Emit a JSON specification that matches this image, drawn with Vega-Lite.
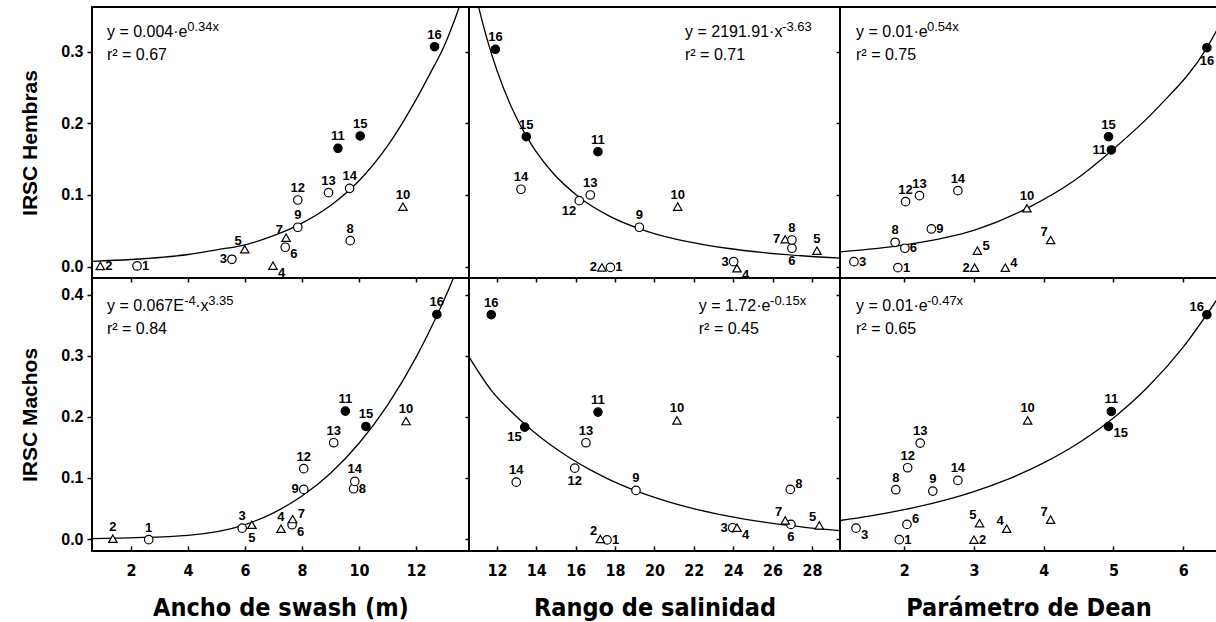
{
  "$schema": "https://vega.github.io/schema/vega-lite/v6.json",
  "background": "white",
  "padding": {"left": 17, "top": 6, "right": 0, "bottom": 0},
  "columns": 3,
  "spacing": 0,
  "bounds": "flush",
  "align": "each",
  "resolve": {"scale": {"x": "independent", "y": "independent"}},
  "config": {
    "view": {"stroke": "black", "strokeWidth": 2},
    "axis": {"domain": false, "grid": false, "tickColor": "black", "tickWidth": 1.5, "labelColor": "black", "titleColor": "black", "labelFont": "Liberation Sans", "titleFont": "Liberation Sans"},
    "text": {"font": "Liberation Sans", "color": "black"},
    "concat": {"spacing": 0}
  },
  "datasets": {
    "pts": [
      {"p": "A", "site": 1, "x": 2.21, "y": 0.001, "t": "c", "pos": "e"},
      {"p": "A", "site": 2, "x": 0.92, "y": 0.001, "t": "t", "pos": "e"},
      {"p": "A", "site": 3, "x": 5.54, "y": 0.0103, "t": "c", "pos": "w"},
      {"p": "A", "site": 4, "x": 6.98, "y": 0.0014, "t": "t", "pos": "se"},
      {"p": "A", "site": 5, "x": 5.99, "y": 0.0243, "t": "t", "pos": "nw"},
      {"p": "A", "site": 6, "x": 7.41, "y": 0.0271, "t": "c", "pos": "se"},
      {"p": "A", "site": 7, "x": 7.44, "y": 0.0404, "t": "t", "pos": "nw"},
      {"p": "A", "site": 8, "x": 9.69, "y": 0.0363, "t": "c", "pos": "n"},
      {"p": "A", "site": 9, "x": 7.85, "y": 0.055, "t": "c", "pos": "n"},
      {"p": "A", "site": 10, "x": 11.54, "y": 0.0837, "t": "t", "pos": "n"},
      {"p": "A", "site": 11, "x": 9.26, "y": 0.1651, "t": "f", "pos": "n"},
      {"p": "A", "site": 12, "x": 7.85, "y": 0.093, "t": "c", "pos": "n"},
      {"p": "A", "site": 13, "x": 8.93, "y": 0.1032, "t": "c", "pos": "n"},
      {"p": "A", "site": 14, "x": 9.67, "y": 0.1093, "t": "c", "pos": "n"},
      {"p": "A", "site": 15, "x": 10.04, "y": 0.1823, "t": "f", "pos": "n"},
      {"p": "A", "site": 16, "x": 12.65, "y": 0.3068, "t": "f", "pos": "n"},

      {"p": "B", "site": 1, "x": 17.76, "y": -0.001, "t": "c", "pos": "e"},
      {"p": "B", "site": 2, "x": 17.33, "y": -0.001, "t": "t", "pos": "w"},
      {"p": "B", "site": 3, "x": 24.02, "y": 0.007, "t": "c", "pos": "w"},
      {"p": "B", "site": 4, "x": 24.19, "y": -0.0022, "t": "t", "pos": "se"},
      {"p": "B", "site": 5, "x": 28.25, "y": 0.0223, "t": "t", "pos": "n"},
      {"p": "B", "site": 6, "x": 26.98, "y": 0.0257, "t": "c", "pos": "s"},
      {"p": "B", "site": 7, "x": 26.64, "y": 0.0382, "t": "t", "pos": "w"},
      {"p": "B", "site": 8, "x": 26.98, "y": 0.0372, "t": "c", "pos": "n"},
      {"p": "B", "site": 9, "x": 19.23, "y": 0.055, "t": "c", "pos": "n"},
      {"p": "B", "site": 10, "x": 21.18, "y": 0.0837, "t": "t", "pos": "n"},
      {"p": "B", "site": 11, "x": 17.13, "y": 0.1604, "t": "f", "pos": "n"},
      {"p": "B", "site": 12, "x": 16.18, "y": 0.0921, "t": "c", "pos": "sw"},
      {"p": "B", "site": 13, "x": 16.74, "y": 0.1, "t": "c", "pos": "n"},
      {"p": "B", "site": 14, "x": 13.22, "y": 0.108, "t": "c", "pos": "n"},
      {"p": "B", "site": 15, "x": 13.49, "y": 0.1813, "t": "f", "pos": "n"},
      {"p": "B", "site": 16, "x": 11.92, "y": 0.3032, "t": "f", "pos": "n"},

      {"p": "C", "site": 1, "x": 1.91, "y": -0.0014, "t": "c", "pos": "e"},
      {"p": "C", "site": 2, "x": 3.01, "y": -0.0014, "t": "t", "pos": "w"},
      {"p": "C", "site": 3, "x": 1.28, "y": 0.007, "t": "c", "pos": "e"},
      {"p": "C", "site": 4, "x": 3.45, "y": -0.0014, "t": "t", "pos": "ne"},
      {"p": "C", "site": 5, "x": 3.05, "y": 0.0223, "t": "t", "pos": "ne"},
      {"p": "C", "site": 6, "x": 2.01, "y": 0.0257, "t": "c", "pos": "e"},
      {"p": "C", "site": 7, "x": 4.1, "y": 0.0372, "t": "t", "pos": "nw"},
      {"p": "C", "site": 8, "x": 1.87, "y": 0.034, "t": "c", "pos": "n"},
      {"p": "C", "site": 9, "x": 2.39, "y": 0.0526, "t": "c", "pos": "e"},
      {"p": "C", "site": 10, "x": 3.76, "y": 0.0815, "t": "t", "pos": "n"},
      {"p": "C", "site": 11, "x": 4.97, "y": 0.1628, "t": "f", "pos": "w"},
      {"p": "C", "site": 12, "x": 2.02, "y": 0.0907, "t": "c", "pos": "n"},
      {"p": "C", "site": 13, "x": 2.22, "y": 0.099, "t": "c", "pos": "n"},
      {"p": "C", "site": 14, "x": 2.77, "y": 0.106, "t": "c", "pos": "n"},
      {"p": "C", "site": 15, "x": 4.93, "y": 0.1813, "t": "f", "pos": "n"},
      {"p": "C", "site": 16, "x": 6.34, "y": 0.3054, "t": "f", "pos": "s"},

      {"p": "D", "site": 1, "x": 2.62, "y": -0.001, "t": "c", "pos": "n"},
      {"p": "D", "site": 2, "x": 1.36, "y": 0.0005, "t": "t", "pos": "n"},
      {"p": "D", "site": 3, "x": 5.9, "y": 0.0178, "t": "c", "pos": "n"},
      {"p": "D", "site": 4, "x": 7.26, "y": 0.0169, "t": "t", "pos": "n"},
      {"p": "D", "site": 5, "x": 6.24, "y": 0.0234, "t": "t", "pos": "s"},
      {"p": "D", "site": 6, "x": 7.65, "y": 0.0234, "t": "c", "pos": "se"},
      {"p": "D", "site": 7, "x": 7.67, "y": 0.0326, "t": "t", "pos": "ne"},
      {"p": "D", "site": 8, "x": 9.81, "y": 0.0823, "t": "c", "pos": "e"},
      {"p": "D", "site": 9, "x": 8.06, "y": 0.0812, "t": "c", "pos": "w"},
      {"p": "D", "site": 10, "x": 11.65, "y": 0.193, "t": "t", "pos": "n"},
      {"p": "D", "site": 11, "x": 9.52, "y": 0.2093, "t": "f", "pos": "n"},
      {"p": "D", "site": 12, "x": 8.06, "y": 0.1151, "t": "c", "pos": "n"},
      {"p": "D", "site": 13, "x": 9.11, "y": 0.1576, "t": "c", "pos": "n"},
      {"p": "D", "site": 14, "x": 9.85, "y": 0.0943, "t": "c", "pos": "n"},
      {"p": "D", "site": 15, "x": 10.24, "y": 0.1843, "t": "f", "pos": "n"},
      {"p": "D", "site": 16, "x": 12.73, "y": 0.3676, "t": "f", "pos": "n"},

      {"p": "E", "site": 1, "x": 17.59, "y": -0.0015, "t": "c", "pos": "e"},
      {"p": "E", "site": 2, "x": 17.25, "y": 0.0, "t": "t", "pos": "nw"},
      {"p": "E", "site": 3, "x": 23.97, "y": 0.0185, "t": "c", "pos": "w"},
      {"p": "E", "site": 4, "x": 24.19, "y": 0.0185, "t": "t", "pos": "se"},
      {"p": "E", "site": 5, "x": 28.37, "y": 0.0223, "t": "t", "pos": "nw"},
      {"p": "E", "site": 6, "x": 26.93, "y": 0.0239, "t": "c", "pos": "s"},
      {"p": "E", "site": 7, "x": 26.64, "y": 0.0304, "t": "t", "pos": "nw"},
      {"p": "E", "site": 8, "x": 26.9, "y": 0.0812, "t": "c", "pos": "ne"},
      {"p": "E", "site": 9, "x": 19.06, "y": 0.0795, "t": "c", "pos": "n"},
      {"p": "E", "site": 10, "x": 21.14, "y": 0.1941, "t": "t", "pos": "n"},
      {"p": "E", "site": 11, "x": 17.13, "y": 0.2077, "t": "f", "pos": "n"},
      {"p": "E", "site": 12, "x": 15.95, "y": 0.116, "t": "c", "pos": "s"},
      {"p": "E", "site": 13, "x": 16.52, "y": 0.1576, "t": "c", "pos": "n"},
      {"p": "E", "site": 14, "x": 12.98, "y": 0.0931, "t": "c", "pos": "n"},
      {"p": "E", "site": 15, "x": 13.41, "y": 0.1831, "t": "f", "pos": "sw"},
      {"p": "E", "site": 16, "x": 11.71, "y": 0.3671, "t": "f", "pos": "n"},

      {"p": "F", "site": 1, "x": 1.93, "y": -0.001, "t": "c", "pos": "e"},
      {"p": "F", "site": 2, "x": 3.0, "y": -0.001, "t": "t", "pos": "e"},
      {"p": "F", "site": 3, "x": 1.31, "y": 0.0178, "t": "c", "pos": "se"},
      {"p": "F", "site": 4, "x": 3.47, "y": 0.0169, "t": "t", "pos": "nw"},
      {"p": "F", "site": 5, "x": 3.08, "y": 0.026, "t": "t", "pos": "nw"},
      {"p": "F", "site": 6, "x": 2.04, "y": 0.0239, "t": "c", "pos": "ne"},
      {"p": "F", "site": 7, "x": 4.1, "y": 0.0316, "t": "t", "pos": "nw"},
      {"p": "F", "site": 8, "x": 1.88, "y": 0.0807, "t": "c", "pos": "n"},
      {"p": "F", "site": 9, "x": 2.41, "y": 0.0784, "t": "c", "pos": "n"},
      {"p": "F", "site": 10, "x": 3.77, "y": 0.1941, "t": "t", "pos": "n"},
      {"p": "F", "site": 11, "x": 4.97, "y": 0.2088, "t": "f", "pos": "n"},
      {"p": "F", "site": 12, "x": 2.05, "y": 0.1167, "t": "c", "pos": "n"},
      {"p": "F", "site": 13, "x": 2.23, "y": 0.157, "t": "c", "pos": "n"},
      {"p": "F", "site": 14, "x": 2.77, "y": 0.0959, "t": "c", "pos": "n"},
      {"p": "F", "site": 15, "x": 4.93, "y": 0.1843, "t": "f", "pos": "se"},
      {"p": "F", "site": 16, "x": 6.34, "y": 0.3671, "t": "f", "pos": "nw"}
    ],
    "curves": [
      {"p": "A", "x": 0.63, "y": 0.0075}, {"p": "A", "x": 2, "y": 0.01}, {"p": "A", "x": 4, "y": 0.017}, {"p": "A", "x": 5, "y": 0.0235}, {"p": "A", "x": 6, "y": 0.0305}, {"p": "A", "x": 7, "y": 0.0432}, {"p": "A", "x": 8, "y": 0.0607}, {"p": "A", "x": 9, "y": 0.0853}, {"p": "A", "x": 10, "y": 0.1198}, {"p": "A", "x": 11, "y": 0.1684}, {"p": "A", "x": 12, "y": 0.233}, {"p": "A", "x": 12.5, "y": 0.27}, {"p": "A", "x": 13, "y": 0.309}, {"p": "A", "x": 13.5, "y": 0.3604}, {"p": "A", "x": 13.6, "y": 0.372},
      {"p": "B", "x": 10.95, "y": 0.376}, {"p": "B", "x": 11.067, "y": 0.3624}, {"p": "B", "x": 11.504, "y": 0.3168}, {"p": "B", "x": 12.001, "y": 0.2736}, {"p": "B", "x": 12.746, "y": 0.222}, {"p": "B", "x": 13.739, "y": 0.171}, {"p": "B", "x": 14.732, "y": 0.1341}, {"p": "B", "x": 16.222, "y": 0.0959}, {"p": "B", "x": 17.713, "y": 0.0706}, {"p": "B", "x": 19.7, "y": 0.0487}, {"p": "B", "x": 21.686, "y": 0.0349}, {"p": "B", "x": 23.673, "y": 0.0257}, {"p": "B", "x": 25.66, "y": 0.01935}, {"p": "B", "x": 27.646, "y": 0.0149}, {"p": "B", "x": 29.434, "y": 0.012},
      {"p": "C", "x": 1.08, "y": 0.0207}, {"p": "C", "x": 2.01, "y": 0.0303}, {"p": "C", "x": 3.02, "y": 0.0512}, {"p": "C", "x": 3.76, "y": 0.0814}, {"p": "C", "x": 4.45, "y": 0.1209}, {"p": "C", "x": 4.99, "y": 0.1632}, {"p": "C", "x": 5.65, "y": 0.2232}, {"p": "C", "x": 6.34, "y": 0.3053}, {"p": "C", "x": 6.5, "y": 0.333},
      {"p": "D", "x": 0.63, "y": 0.0005}, {"p": "D", "x": 2, "y": 0.002}, {"p": "D", "x": 4, "y": 0.006}, {"p": "D", "x": 6, "y": 0.0236}, {"p": "D", "x": 7, "y": 0.0429}, {"p": "D", "x": 8, "y": 0.0704}, {"p": "D", "x": 9, "y": 0.1077}, {"p": "D", "x": 10, "y": 0.1567}, {"p": "D", "x": 11, "y": 0.2192}, {"p": "D", "x": 12, "y": 0.2973}, {"p": "D", "x": 12.7, "y": 0.3624}, {"p": "D", "x": 13.3, "y": 0.4258}, {"p": "D", "x": 13.5, "y": 0.45},
      {"p": "E", "x": 10.58, "y": 0.298}, {"p": "E", "x": 11.752, "y": 0.2417}, {"p": "E", "x": 12.746, "y": 0.208}, {"p": "E", "x": 13.739, "y": 0.1789}, {"p": "E", "x": 14.732, "y": 0.1538}, {"p": "E", "x": 15.726, "y": 0.1321}, {"p": "E", "x": 16.719, "y": 0.1135}, {"p": "E", "x": 17.713, "y": 0.0973}, {"p": "E", "x": 19.7, "y": 0.0714}, {"p": "E", "x": 21.686, "y": 0.0521}, {"p": "E", "x": 23.673, "y": 0.0378}, {"p": "E", "x": 25.66, "y": 0.0271}, {"p": "E", "x": 27.646, "y": 0.0192}, {"p": "E", "x": 29.42, "y": 0.0138},
      {"p": "F", "x": 1.08, "y": 0.0303}, {"p": "F", "x": 1.5, "y": 0.0374}, {"p": "F", "x": 2, "y": 0.048}, {"p": "F", "x": 2.5, "y": 0.0612}, {"p": "F", "x": 3, "y": 0.0777}, {"p": "F", "x": 3.5, "y": 0.0985}, {"p": "F", "x": 4, "y": 0.1246}, {"p": "F", "x": 4.5, "y": 0.1572}, {"p": "F", "x": 5, "y": 0.1982}, {"p": "F", "x": 5.5, "y": 0.2496}, {"p": "F", "x": 6, "y": 0.3141}, {"p": "F", "x": 6.485, "y": 0.392}
    ],
    "eq": [
      {"p": "A", "x": 1.155, "y": 0.3197, "s": "y = 0.004·e"},
      {"p": "A", "x": 1.155, "y": 0.2883, "s": "r² = 0.67"},
      {"p": "B", "x": 21.55, "y": 0.3197, "s": "y = 2191.91·x"},
      {"p": "B", "x": 21.55, "y": 0.2883, "s": "r² = 0.71"},
      {"p": "C", "x": 1.31, "y": 0.3197, "s": "y = 0.01·e"},
      {"p": "C", "x": 1.31, "y": 0.2883, "s": "r² = 0.75"},
      {"p": "D", "x": 1.155, "y": 0.3725, "s": "y = 0.067E"},
      {"p": "D", "x": 4.25, "y": 0.3725, "s": "·x"},
      {"p": "D", "x": 1.155, "y": 0.3349, "s": "r² = 0.84"},
      {"p": "E", "x": 22.25, "y": 0.3725, "s": "y = 1.72·e"},
      {"p": "E", "x": 22.25, "y": 0.3349, "s": "r² = 0.45"},
      {"p": "F", "x": 1.31, "y": 0.3725, "s": "y = 0.01·e"},
      {"p": "F", "x": 1.31, "y": 0.3349, "s": "r² = 0.65"}
    ],
    "sup": [
      {"p": "A", "x": 3.972, "y": 0.3287, "s": "0.34x"},
      {"p": "B", "x": 26.48, "y": 0.3287, "s": "-3.63"},
      {"p": "C", "x": 2.327, "y": 0.3287, "s": "0.54x"},
      {"p": "D", "x": 3.866, "y": 0.3823, "s": "-4"},
      {"p": "D", "x": 4.71, "y": 0.3823, "s": "3.35"},
      {"p": "E", "x": 25.87, "y": 0.3823, "s": "-0.15x"},
      {"p": "F", "x": 2.327, "y": 0.3823, "s": "-0.47x"}
    ]
  },
  "concat": [
    {
      "width": 377, "height": 271,
      "data": {"name": "pts"},
      "transform": [{"filter": "datum.p === 'A'"}],
      "encoding": {
        "x": {"field": "x", "type": "quantitative", "scale": {"domain": [0.63, 13.858], "nice": false, "zero": false}, "axis": {"values": [2, 4, 6, 8, 10, 12], "labels": false, "tickSize": 4, "title": null}},
        "y": {"field": "y", "type": "quantitative", "scale": {"domain": [-0.0158, 0.3622], "nice": false, "zero": false}, "axis": {"values": [0, 0.1, 0.2, 0.3], "format": ".1f", "tickSize": 5, "labelPadding": 4, "labelFontSize": 16, "labelFontWeight": "bold", "title": "IRSC Hembras", "titleFontSize": 21, "titleFontWeight": "bold", "titleX": -62, "titleBaseline": "middle"}}
      },
      "layer": [
        {"data": {"name": "curves"}, "transform": [{"filter": "datum.p === 'A'"}], "mark": {"type": "line", "color": "black", "strokeWidth": 1.3, "interpolate": "monotone", "clip": true}},
        {"mark": {"type": "point", "filled": true, "stroke": "black", "strokeWidth": 1.2, "opacity": 1}, "encoding": {"shape": {"field": "t", "type": "nominal", "scale": {"domain": ["c", "t", "f"], "range": ["circle", "triangle-up", "circle"]}, "legend": null}, "fill": {"field": "t", "type": "nominal", "scale": {"domain": ["c", "t", "f"], "range": ["white", "white", "black"]}, "legend": null}, "size": {"field": "t", "type": "nominal", "scale": {"domain": ["c", "t", "f"], "range": [72, 70, 105]}, "legend": null}}},
        {"transform": [{"filter": "datum.pos === 'n'"}], "mark": {"type": "text", "fontSize": 13, "fontWeight": "bold", "align": "center", "baseline": "middle", "dy": -12}, "encoding": {"text": {"field": "site", "type": "nominal"}}},
        {"transform": [{"filter": "datum.pos === 's'"}], "mark": {"type": "text", "fontSize": 13, "fontWeight": "bold", "align": "center", "baseline": "middle", "dy": 13}, "encoding": {"text": {"field": "site", "type": "nominal"}}},
        {"transform": [{"filter": "datum.pos === 'e'"}], "mark": {"type": "text", "fontSize": 13, "fontWeight": "bold", "align": "left", "baseline": "middle", "dx": 5}, "encoding": {"text": {"field": "site", "type": "nominal"}}},
        {"transform": [{"filter": "datum.pos === 'w'"}], "mark": {"type": "text", "fontSize": 13, "fontWeight": "bold", "align": "right", "baseline": "middle", "dx": -5}, "encoding": {"text": {"field": "site", "type": "nominal"}}},
        {"transform": [{"filter": "datum.pos === 'ne'"}], "mark": {"type": "text", "fontSize": 13, "fontWeight": "bold", "align": "left", "baseline": "middle", "dx": 5, "dy": -5}, "encoding": {"text": {"field": "site", "type": "nominal"}}},
        {"transform": [{"filter": "datum.pos === 'nw'"}], "mark": {"type": "text", "fontSize": 13, "fontWeight": "bold", "align": "right", "baseline": "middle", "dx": -3, "dy": -8}, "encoding": {"text": {"field": "site", "type": "nominal"}}},
        {"transform": [{"filter": "datum.pos === 'se'"}], "mark": {"type": "text", "fontSize": 13, "fontWeight": "bold", "align": "left", "baseline": "middle", "dx": 5, "dy": 7}, "encoding": {"text": {"field": "site", "type": "nominal"}}},
        {"transform": [{"filter": "datum.pos === 'sw'"}], "mark": {"type": "text", "fontSize": 13, "fontWeight": "bold", "align": "right", "baseline": "middle", "dx": -3, "dy": 10}, "encoding": {"text": {"field": "site", "type": "nominal"}}},
        {"data": {"name": "eq"}, "transform": [{"filter": "datum.p === 'A'"}], "mark": {"type": "text", "fontSize": 16, "align": "left", "baseline": "alphabetic"}, "encoding": {"text": {"field": "s", "type": "nominal"}}},
        {"data": {"name": "sup"}, "transform": [{"filter": "datum.p === 'A'"}], "mark": {"type": "text", "fontSize": 13, "align": "left", "baseline": "alphabetic"}, "encoding": {"text": {"field": "s", "type": "nominal"}}}
      ]
    },
    {
      "width": 371, "height": 271,
      "data": {"name": "pts"},
      "transform": [{"filter": "datum.p === 'B'"}],
      "encoding": {
        "x": {"field": "x", "type": "quantitative", "scale": {"domain": [10.58, 29.422], "nice": false, "zero": false}, "axis": {"values": [12, 14, 16, 18, 20, 22, 24, 26, 28], "labels": false, "tickSize": 4, "title": null}},
        "y": {"field": "y", "type": "quantitative", "scale": {"domain": [-0.0158, 0.3622], "nice": false, "zero": false}, "axis": {"values": [0, 0.1, 0.2, 0.3], "labels": false, "tickSize": 4, "title": null}}
      },
      "layer": [
        {"data": {"name": "curves"}, "transform": [{"filter": "datum.p === 'B'"}], "mark": {"type": "line", "color": "black", "strokeWidth": 1.3, "interpolate": "monotone", "clip": true}},
        {"mark": {"type": "point", "filled": true, "stroke": "black", "strokeWidth": 1.2, "opacity": 1}, "encoding": {"shape": {"field": "t", "type": "nominal", "scale": {"domain": ["c", "t", "f"], "range": ["circle", "triangle-up", "circle"]}, "legend": null}, "fill": {"field": "t", "type": "nominal", "scale": {"domain": ["c", "t", "f"], "range": ["white", "white", "black"]}, "legend": null}, "size": {"field": "t", "type": "nominal", "scale": {"domain": ["c", "t", "f"], "range": [72, 70, 105]}, "legend": null}}},
        {"transform": [{"filter": "datum.pos === 'n'"}], "mark": {"type": "text", "fontSize": 13, "fontWeight": "bold", "align": "center", "baseline": "middle", "dy": -12}, "encoding": {"text": {"field": "site", "type": "nominal"}}},
        {"transform": [{"filter": "datum.pos === 's'"}], "mark": {"type": "text", "fontSize": 13, "fontWeight": "bold", "align": "center", "baseline": "middle", "dy": 13}, "encoding": {"text": {"field": "site", "type": "nominal"}}},
        {"transform": [{"filter": "datum.pos === 'e'"}], "mark": {"type": "text", "fontSize": 13, "fontWeight": "bold", "align": "left", "baseline": "middle", "dx": 5}, "encoding": {"text": {"field": "site", "type": "nominal"}}},
        {"transform": [{"filter": "datum.pos === 'w'"}], "mark": {"type": "text", "fontSize": 13, "fontWeight": "bold", "align": "right", "baseline": "middle", "dx": -5}, "encoding": {"text": {"field": "site", "type": "nominal"}}},
        {"transform": [{"filter": "datum.pos === 'ne'"}], "mark": {"type": "text", "fontSize": 13, "fontWeight": "bold", "align": "left", "baseline": "middle", "dx": 5, "dy": -5}, "encoding": {"text": {"field": "site", "type": "nominal"}}},
        {"transform": [{"filter": "datum.pos === 'nw'"}], "mark": {"type": "text", "fontSize": 13, "fontWeight": "bold", "align": "right", "baseline": "middle", "dx": -3, "dy": -8}, "encoding": {"text": {"field": "site", "type": "nominal"}}},
        {"transform": [{"filter": "datum.pos === 'se'"}], "mark": {"type": "text", "fontSize": 13, "fontWeight": "bold", "align": "left", "baseline": "middle", "dx": 5, "dy": 7}, "encoding": {"text": {"field": "site", "type": "nominal"}}},
        {"transform": [{"filter": "datum.pos === 'sw'"}], "mark": {"type": "text", "fontSize": 13, "fontWeight": "bold", "align": "right", "baseline": "middle", "dx": -3, "dy": 10}, "encoding": {"text": {"field": "site", "type": "nominal"}}},
        {"data": {"name": "eq"}, "transform": [{"filter": "datum.p === 'B'"}], "mark": {"type": "text", "fontSize": 16, "align": "left", "baseline": "alphabetic"}, "encoding": {"text": {"field": "s", "type": "nominal"}}},
        {"data": {"name": "sup"}, "transform": [{"filter": "datum.p === 'B'"}], "mark": {"type": "text", "fontSize": 13, "align": "left", "baseline": "alphabetic"}, "encoding": {"text": {"field": "s", "type": "nominal"}}}
      ]
    },
    {
      "width": 377, "height": 271,
      "data": {"name": "pts"},
      "transform": [{"filter": "datum.p === 'C'"}],
      "encoding": {
        "x": {"field": "x", "type": "quantitative", "scale": {"domain": [1.08, 6.485], "nice": false, "zero": false}, "axis": {"values": [2, 3, 4, 5, 6], "labels": false, "tickSize": 4, "title": null}},
        "y": {"field": "y", "type": "quantitative", "scale": {"domain": [-0.0158, 0.3622], "nice": false, "zero": false}, "axis": {"values": [0, 0.1, 0.2, 0.3], "labels": false, "tickSize": 4, "title": null}}
      },
      "layer": [
        {"data": {"name": "curves"}, "transform": [{"filter": "datum.p === 'C'"}], "mark": {"type": "line", "color": "black", "strokeWidth": 1.3, "interpolate": "monotone", "clip": true}},
        {"mark": {"type": "point", "filled": true, "stroke": "black", "strokeWidth": 1.2, "opacity": 1}, "encoding": {"shape": {"field": "t", "type": "nominal", "scale": {"domain": ["c", "t", "f"], "range": ["circle", "triangle-up", "circle"]}, "legend": null}, "fill": {"field": "t", "type": "nominal", "scale": {"domain": ["c", "t", "f"], "range": ["white", "white", "black"]}, "legend": null}, "size": {"field": "t", "type": "nominal", "scale": {"domain": ["c", "t", "f"], "range": [72, 70, 105]}, "legend": null}}},
        {"transform": [{"filter": "datum.pos === 'n'"}], "mark": {"type": "text", "fontSize": 13, "fontWeight": "bold", "align": "center", "baseline": "middle", "dy": -12}, "encoding": {"text": {"field": "site", "type": "nominal"}}},
        {"transform": [{"filter": "datum.pos === 's'"}], "mark": {"type": "text", "fontSize": 13, "fontWeight": "bold", "align": "center", "baseline": "middle", "dy": 13}, "encoding": {"text": {"field": "site", "type": "nominal"}}},
        {"transform": [{"filter": "datum.pos === 'e'"}], "mark": {"type": "text", "fontSize": 13, "fontWeight": "bold", "align": "left", "baseline": "middle", "dx": 5}, "encoding": {"text": {"field": "site", "type": "nominal"}}},
        {"transform": [{"filter": "datum.pos === 'w'"}], "mark": {"type": "text", "fontSize": 13, "fontWeight": "bold", "align": "right", "baseline": "middle", "dx": -5}, "encoding": {"text": {"field": "site", "type": "nominal"}}},
        {"transform": [{"filter": "datum.pos === 'ne'"}], "mark": {"type": "text", "fontSize": 13, "fontWeight": "bold", "align": "left", "baseline": "middle", "dx": 5, "dy": -5}, "encoding": {"text": {"field": "site", "type": "nominal"}}},
        {"transform": [{"filter": "datum.pos === 'nw'"}], "mark": {"type": "text", "fontSize": 13, "fontWeight": "bold", "align": "right", "baseline": "middle", "dx": -3, "dy": -8}, "encoding": {"text": {"field": "site", "type": "nominal"}}},
        {"transform": [{"filter": "datum.pos === 'se'"}], "mark": {"type": "text", "fontSize": 13, "fontWeight": "bold", "align": "left", "baseline": "middle", "dx": 5, "dy": 7}, "encoding": {"text": {"field": "site", "type": "nominal"}}},
        {"transform": [{"filter": "datum.pos === 'sw'"}], "mark": {"type": "text", "fontSize": 13, "fontWeight": "bold", "align": "right", "baseline": "middle", "dx": -3, "dy": 10}, "encoding": {"text": {"field": "site", "type": "nominal"}}},
        {"data": {"name": "eq"}, "transform": [{"filter": "datum.p === 'C'"}], "mark": {"type": "text", "fontSize": 16, "align": "left", "baseline": "alphabetic"}, "encoding": {"text": {"field": "s", "type": "nominal"}}},
        {"data": {"name": "sup"}, "transform": [{"filter": "datum.p === 'C'"}], "mark": {"type": "text", "fontSize": 13, "align": "left", "baseline": "alphabetic"}, "encoding": {"text": {"field": "s", "type": "nominal"}}}
      ]
    },
    {
      "width": 377, "height": 273,
      "data": {"name": "pts"},
      "transform": [{"filter": "datum.p === 'D'"}],
      "encoding": {
        "x": {"field": "x", "type": "quantitative", "scale": {"domain": [0.63, 13.858], "nice": false, "zero": false}, "axis": {"values": [2, 4, 6, 8, 10, 12], "tickSize": -5, "labelPadding": 16, "labelFont": "DejaVu Sans Condensed, Liberation Sans, sans-serif", "labelFontSize": 16, "labelFontWeight": "bold", "title": "Ancho de swash (m)", "titleFont": "DejaVu Sans Condensed, Liberation Sans, sans-serif", "titleFontSize": 25, "titleFontWeight": "bold", "titleY": 64, "titleBaseline": "alphabetic"}},
        "y": {"field": "y", "type": "quantitative", "scale": {"domain": [-0.0196, 0.4272], "nice": false, "zero": false}, "axis": {"values": [0, 0.1, 0.2, 0.3, 0.4], "format": ".1f", "tickSize": 5, "labelPadding": 4, "labelFontSize": 16, "labelFontWeight": "bold", "title": "IRSC Machos", "titleFontSize": 21, "titleFontWeight": "bold", "titleX": -62, "titleBaseline": "middle"}}
      },
      "layer": [
        {"data": {"name": "curves"}, "transform": [{"filter": "datum.p === 'D'"}], "mark": {"type": "line", "color": "black", "strokeWidth": 1.3, "interpolate": "monotone", "clip": true}},
        {"mark": {"type": "point", "filled": true, "stroke": "black", "strokeWidth": 1.2, "opacity": 1}, "encoding": {"shape": {"field": "t", "type": "nominal", "scale": {"domain": ["c", "t", "f"], "range": ["circle", "triangle-up", "circle"]}, "legend": null}, "fill": {"field": "t", "type": "nominal", "scale": {"domain": ["c", "t", "f"], "range": ["white", "white", "black"]}, "legend": null}, "size": {"field": "t", "type": "nominal", "scale": {"domain": ["c", "t", "f"], "range": [72, 70, 105]}, "legend": null}}},
        {"transform": [{"filter": "datum.pos === 'n'"}], "mark": {"type": "text", "fontSize": 13, "fontWeight": "bold", "align": "center", "baseline": "middle", "dy": -12}, "encoding": {"text": {"field": "site", "type": "nominal"}}},
        {"transform": [{"filter": "datum.pos === 's'"}], "mark": {"type": "text", "fontSize": 13, "fontWeight": "bold", "align": "center", "baseline": "middle", "dy": 13}, "encoding": {"text": {"field": "site", "type": "nominal"}}},
        {"transform": [{"filter": "datum.pos === 'e'"}], "mark": {"type": "text", "fontSize": 13, "fontWeight": "bold", "align": "left", "baseline": "middle", "dx": 5}, "encoding": {"text": {"field": "site", "type": "nominal"}}},
        {"transform": [{"filter": "datum.pos === 'w'"}], "mark": {"type": "text", "fontSize": 13, "fontWeight": "bold", "align": "right", "baseline": "middle", "dx": -5}, "encoding": {"text": {"field": "site", "type": "nominal"}}},
        {"transform": [{"filter": "datum.pos === 'ne'"}], "mark": {"type": "text", "fontSize": 13, "fontWeight": "bold", "align": "left", "baseline": "middle", "dx": 5, "dy": -5}, "encoding": {"text": {"field": "site", "type": "nominal"}}},
        {"transform": [{"filter": "datum.pos === 'nw'"}], "mark": {"type": "text", "fontSize": 13, "fontWeight": "bold", "align": "right", "baseline": "middle", "dx": -3, "dy": -8}, "encoding": {"text": {"field": "site", "type": "nominal"}}},
        {"transform": [{"filter": "datum.pos === 'se'"}], "mark": {"type": "text", "fontSize": 13, "fontWeight": "bold", "align": "left", "baseline": "middle", "dx": 5, "dy": 7}, "encoding": {"text": {"field": "site", "type": "nominal"}}},
        {"transform": [{"filter": "datum.pos === 'sw'"}], "mark": {"type": "text", "fontSize": 13, "fontWeight": "bold", "align": "right", "baseline": "middle", "dx": -3, "dy": 10}, "encoding": {"text": {"field": "site", "type": "nominal"}}},
        {"data": {"name": "eq"}, "transform": [{"filter": "datum.p === 'D'"}], "mark": {"type": "text", "fontSize": 16, "align": "left", "baseline": "alphabetic"}, "encoding": {"text": {"field": "s", "type": "nominal"}}},
        {"data": {"name": "sup"}, "transform": [{"filter": "datum.p === 'D'"}], "mark": {"type": "text", "fontSize": 13, "align": "left", "baseline": "alphabetic"}, "encoding": {"text": {"field": "s", "type": "nominal"}}}
      ]
    },
    {
      "width": 371, "height": 273,
      "data": {"name": "pts"},
      "transform": [{"filter": "datum.p === 'E'"}],
      "encoding": {
        "x": {"field": "x", "type": "quantitative", "scale": {"domain": [10.58, 29.422], "nice": false, "zero": false}, "axis": {"values": [12, 14, 16, 18, 20, 22, 24, 26, 28], "tickSize": -5, "labelPadding": 16, "labelFont": "DejaVu Sans Condensed, Liberation Sans, sans-serif", "labelFontSize": 16, "labelFontWeight": "bold", "title": "Rango de salinidad", "titleFont": "DejaVu Sans Condensed, Liberation Sans, sans-serif", "titleFontSize": 25, "titleFontWeight": "bold", "titleY": 64, "titleBaseline": "alphabetic"}},
        "y": {"field": "y", "type": "quantitative", "scale": {"domain": [-0.0196, 0.4272], "nice": false, "zero": false}, "axis": {"values": [0, 0.1, 0.2, 0.3, 0.4], "labels": false, "tickSize": 4, "title": null}}
      },
      "layer": [
        {"data": {"name": "curves"}, "transform": [{"filter": "datum.p === 'E'"}], "mark": {"type": "line", "color": "black", "strokeWidth": 1.3, "interpolate": "monotone", "clip": true}},
        {"mark": {"type": "point", "filled": true, "stroke": "black", "strokeWidth": 1.2, "opacity": 1}, "encoding": {"shape": {"field": "t", "type": "nominal", "scale": {"domain": ["c", "t", "f"], "range": ["circle", "triangle-up", "circle"]}, "legend": null}, "fill": {"field": "t", "type": "nominal", "scale": {"domain": ["c", "t", "f"], "range": ["white", "white", "black"]}, "legend": null}, "size": {"field": "t", "type": "nominal", "scale": {"domain": ["c", "t", "f"], "range": [72, 70, 105]}, "legend": null}}},
        {"transform": [{"filter": "datum.pos === 'n'"}], "mark": {"type": "text", "fontSize": 13, "fontWeight": "bold", "align": "center", "baseline": "middle", "dy": -12}, "encoding": {"text": {"field": "site", "type": "nominal"}}},
        {"transform": [{"filter": "datum.pos === 's'"}], "mark": {"type": "text", "fontSize": 13, "fontWeight": "bold", "align": "center", "baseline": "middle", "dy": 13}, "encoding": {"text": {"field": "site", "type": "nominal"}}},
        {"transform": [{"filter": "datum.pos === 'e'"}], "mark": {"type": "text", "fontSize": 13, "fontWeight": "bold", "align": "left", "baseline": "middle", "dx": 5}, "encoding": {"text": {"field": "site", "type": "nominal"}}},
        {"transform": [{"filter": "datum.pos === 'w'"}], "mark": {"type": "text", "fontSize": 13, "fontWeight": "bold", "align": "right", "baseline": "middle", "dx": -5}, "encoding": {"text": {"field": "site", "type": "nominal"}}},
        {"transform": [{"filter": "datum.pos === 'ne'"}], "mark": {"type": "text", "fontSize": 13, "fontWeight": "bold", "align": "left", "baseline": "middle", "dx": 5, "dy": -5}, "encoding": {"text": {"field": "site", "type": "nominal"}}},
        {"transform": [{"filter": "datum.pos === 'nw'"}], "mark": {"type": "text", "fontSize": 13, "fontWeight": "bold", "align": "right", "baseline": "middle", "dx": -3, "dy": -8}, "encoding": {"text": {"field": "site", "type": "nominal"}}},
        {"transform": [{"filter": "datum.pos === 'se'"}], "mark": {"type": "text", "fontSize": 13, "fontWeight": "bold", "align": "left", "baseline": "middle", "dx": 5, "dy": 7}, "encoding": {"text": {"field": "site", "type": "nominal"}}},
        {"transform": [{"filter": "datum.pos === 'sw'"}], "mark": {"type": "text", "fontSize": 13, "fontWeight": "bold", "align": "right", "baseline": "middle", "dx": -3, "dy": 10}, "encoding": {"text": {"field": "site", "type": "nominal"}}},
        {"data": {"name": "eq"}, "transform": [{"filter": "datum.p === 'E'"}], "mark": {"type": "text", "fontSize": 16, "align": "left", "baseline": "alphabetic"}, "encoding": {"text": {"field": "s", "type": "nominal"}}},
        {"data": {"name": "sup"}, "transform": [{"filter": "datum.p === 'E'"}], "mark": {"type": "text", "fontSize": 13, "align": "left", "baseline": "alphabetic"}, "encoding": {"text": {"field": "s", "type": "nominal"}}}
      ]
    },
    {
      "width": 377, "height": 273,
      "data": {"name": "pts"},
      "transform": [{"filter": "datum.p === 'F'"}],
      "encoding": {
        "x": {"field": "x", "type": "quantitative", "scale": {"domain": [1.08, 6.485], "nice": false, "zero": false}, "axis": {"values": [2, 3, 4, 5, 6], "tickSize": -5, "labelPadding": 16, "labelFont": "DejaVu Sans Condensed, Liberation Sans, sans-serif", "labelFontSize": 16, "labelFontWeight": "bold", "title": "Parámetro de Dean", "titleFont": "DejaVu Sans Condensed, Liberation Sans, sans-serif", "titleFontSize": 25, "titleFontWeight": "bold", "titleY": 64, "titleBaseline": "alphabetic"}},
        "y": {"field": "y", "type": "quantitative", "scale": {"domain": [-0.0196, 0.4272], "nice": false, "zero": false}, "axis": {"values": [0, 0.1, 0.2, 0.3, 0.4], "labels": false, "tickSize": 4, "title": null}}
      },
      "layer": [
        {"data": {"name": "curves"}, "transform": [{"filter": "datum.p === 'F'"}], "mark": {"type": "line", "color": "black", "strokeWidth": 1.3, "interpolate": "monotone", "clip": true}},
        {"mark": {"type": "point", "filled": true, "stroke": "black", "strokeWidth": 1.2, "opacity": 1}, "encoding": {"shape": {"field": "t", "type": "nominal", "scale": {"domain": ["c", "t", "f"], "range": ["circle", "triangle-up", "circle"]}, "legend": null}, "fill": {"field": "t", "type": "nominal", "scale": {"domain": ["c", "t", "f"], "range": ["white", "white", "black"]}, "legend": null}, "size": {"field": "t", "type": "nominal", "scale": {"domain": ["c", "t", "f"], "range": [72, 70, 105]}, "legend": null}}},
        {"transform": [{"filter": "datum.pos === 'n'"}], "mark": {"type": "text", "fontSize": 13, "fontWeight": "bold", "align": "center", "baseline": "middle", "dy": -12}, "encoding": {"text": {"field": "site", "type": "nominal"}}},
        {"transform": [{"filter": "datum.pos === 's'"}], "mark": {"type": "text", "fontSize": 13, "fontWeight": "bold", "align": "center", "baseline": "middle", "dy": 13}, "encoding": {"text": {"field": "site", "type": "nominal"}}},
        {"transform": [{"filter": "datum.pos === 'e'"}], "mark": {"type": "text", "fontSize": 13, "fontWeight": "bold", "align": "left", "baseline": "middle", "dx": 5}, "encoding": {"text": {"field": "site", "type": "nominal"}}},
        {"transform": [{"filter": "datum.pos === 'w'"}], "mark": {"type": "text", "fontSize": 13, "fontWeight": "bold", "align": "right", "baseline": "middle", "dx": -5}, "encoding": {"text": {"field": "site", "type": "nominal"}}},
        {"transform": [{"filter": "datum.pos === 'ne'"}], "mark": {"type": "text", "fontSize": 13, "fontWeight": "bold", "align": "left", "baseline": "middle", "dx": 5, "dy": -5}, "encoding": {"text": {"field": "site", "type": "nominal"}}},
        {"transform": [{"filter": "datum.pos === 'nw'"}], "mark": {"type": "text", "fontSize": 13, "fontWeight": "bold", "align": "right", "baseline": "middle", "dx": -3, "dy": -8}, "encoding": {"text": {"field": "site", "type": "nominal"}}},
        {"transform": [{"filter": "datum.pos === 'se'"}], "mark": {"type": "text", "fontSize": 13, "fontWeight": "bold", "align": "left", "baseline": "middle", "dx": 5, "dy": 7}, "encoding": {"text": {"field": "site", "type": "nominal"}}},
        {"transform": [{"filter": "datum.pos === 'sw'"}], "mark": {"type": "text", "fontSize": 13, "fontWeight": "bold", "align": "right", "baseline": "middle", "dx": -3, "dy": 10}, "encoding": {"text": {"field": "site", "type": "nominal"}}},
        {"data": {"name": "eq"}, "transform": [{"filter": "datum.p === 'F'"}], "mark": {"type": "text", "fontSize": 16, "align": "left", "baseline": "alphabetic"}, "encoding": {"text": {"field": "s", "type": "nominal"}}},
        {"data": {"name": "sup"}, "transform": [{"filter": "datum.p === 'F'"}], "mark": {"type": "text", "fontSize": 13, "align": "left", "baseline": "alphabetic"}, "encoding": {"text": {"field": "s", "type": "nominal"}}}
      ]
    }
  ]
}
